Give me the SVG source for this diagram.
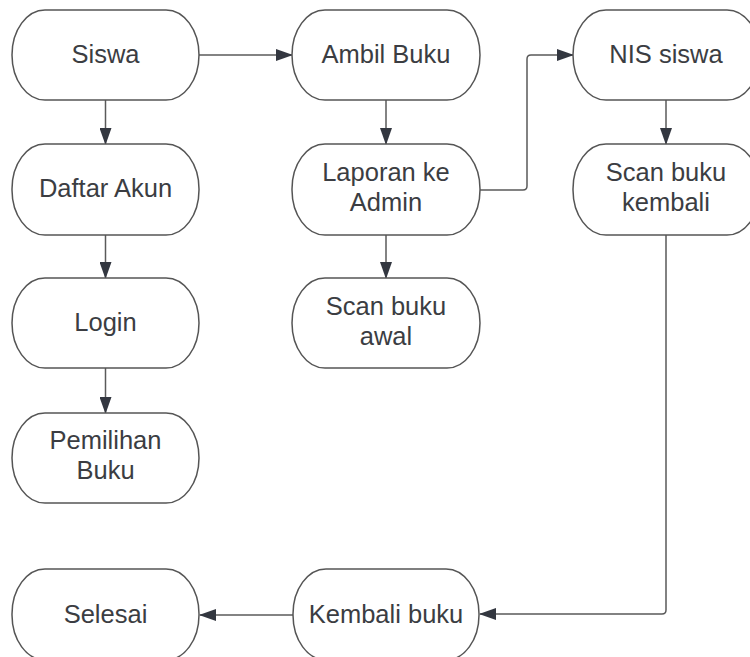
<svg xmlns="http://www.w3.org/2000/svg" width="750" height="657" viewBox="0 0 750 657">
<style>
.node rect{fill:#ffffff;stroke:#555555;stroke-width:1.5}
.node text{font-family:"Liberation Sans",Arial,sans-serif;font-size:25.5px;fill:#3b3d42;text-anchor:middle}
.conn path{fill:none;stroke:#5a5a5a;stroke-width:1.5;marker-end:url(#arrow)}
</style>
<defs>
<marker id="arrow" viewBox="0 0 17 12" refX="16" refY="6" markerWidth="17" markerHeight="12" markerUnits="userSpaceOnUse" orient="auto">
<path d="M0,0 L17,6 L0,12 z" fill="#333740"/>
</marker>
</defs>
<rect width="750" height="657" fill="#ffffff"/>
<g id="connectors" class="conn">
<path d="M105.5,100 V144"/>
<path d="M105.5,235 V278"/>
<path d="M105.5,368 V413"/>
<path d="M199,55 H292"/>
<path d="M386,100 V144"/>
<path d="M386,235 V278"/>
<path d="M480,190 H523 Q527,190 527,186 V59 Q527,55 531,55 H573"/>
<path d="M666,100 V144"/>
<path d="M666,235 V610 Q666,614 662,614 H480"/>
<path d="M293,615 H200"/>
</g>
<g id="siswa" class="node"><rect x="12" y="10" width="187" height="90" rx="33" ry="45"/><text x="105.5" y="63">Siswa</text></g>
<g id="daftar-akun" class="node"><rect x="12" y="144" width="187" height="91" rx="33" ry="45"/><text x="105.5" y="197">Daftar Akun</text></g>
<g id="login" class="node"><rect x="12" y="278" width="187" height="90" rx="33" ry="45"/><text x="105.5" y="331">Login</text></g>
<g id="pemilihan-buku" class="node"><rect x="12" y="413" width="187" height="90" rx="33" ry="45"/><text x="105.5" y="449">Pemilihan</text><text x="105.5" y="479">Buku</text></g>
<g id="ambil-buku" class="node"><rect x="292" y="10" width="188" height="90" rx="33" ry="45"/><text x="386" y="63">Ambil Buku</text></g>
<g id="laporan-admin" class="node"><rect x="292" y="144" width="188" height="91" rx="33" ry="45"/><text x="386" y="181">Laporan ke</text><text x="386" y="211">Admin</text></g>
<g id="scan-buku-awal" class="node"><rect x="292" y="278" width="188" height="90" rx="33" ry="45"/><text x="386" y="315">Scan buku</text><text x="386" y="345">awal</text></g>
<g id="nis-siswa" class="node"><rect x="573" y="10" width="187" height="90" rx="33" ry="45"/><text x="666" y="63">NIS siswa</text></g>
<g id="scan-buku-kembali" class="node"><rect x="573" y="144" width="187" height="91" rx="33" ry="45"/><text x="666" y="181">Scan buku</text><text x="666" y="211">kembali</text></g>
<g id="kembali-buku" class="node"><rect x="293" y="569" width="186" height="91" rx="33" ry="45"/><text x="386" y="623">Kembali buku</text></g>
<g id="selesai" class="node"><rect x="12" y="569" width="187" height="91" rx="33" ry="45"/><text x="105.5" y="623">Selesai</text></g>
</svg>
